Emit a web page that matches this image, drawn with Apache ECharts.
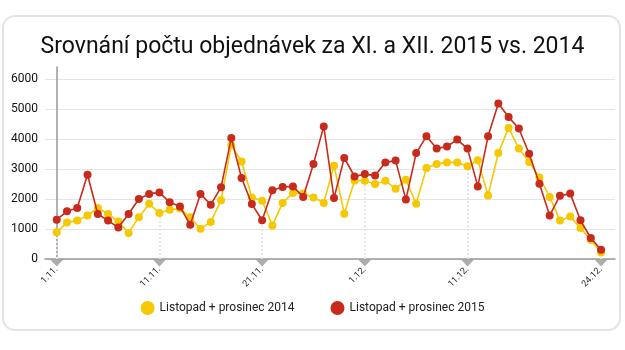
<!DOCTYPE html>
<html>
<head>
<meta charset="utf-8">
<script src="https://cdn.jsdelivr.net/npm/echarts@6/dist/echarts.min.js"></script>
<style>html,body{margin:0;padding:0;background:#fff;}#c{width:625px;height:350px;}</style>
</head>
<body>
<div id="c"></div>
<script>
// Days: 1.11. .. 30.11., 1.12. .. 24.12.
const categories = [];
for (let d = 1; d <= 30; d++) categories.push(d + '.11.');
for (let d = 1; d <= 24; d++) categories.push(d + '.12.');

const labelIndexes = [0, 10, 20, 30, 40, 53];
const yTicks = [0, 1000, 2000, 3000, 4000, 5000, 6000];

const values2014 = [
  890, 1220, 1280, 1450, 1700, 1500, 1250, 870, 1390, 1840,
  1530, 1640, 1680, 1390, 1010, 1230, 1960, 3790, 3250, 2050,
  1940, 1120, 1870, 2200, 2180, 2050, 1870, 3110, 1510, 2620,
  2610, 2500, 2610, 2340, 2640, 1840, 3030, 3170, 3220, 3220,
  3090, 3290, 2120, 3530, 4370, 3680, 3230, 2720, 2070, 1280,
  1420, 1030, 640, 220
];
const values2015 = [
  1310, 1590, 1700, 2810, 1500, 1280, 1050, 1500, 2000, 2170,
  2220, 1890, 1750, 1140, 2170, 1810, 2390, 4030, 2700, 1830,
  1290, 2290, 2400, 2420, 2070, 3170, 4420, 2030, 3370, 2750,
  2830, 2780, 3220, 3280, 1980, 3530, 4090, 3680, 3750, 3980,
  3680, 2420, 4090, 5180, 4730, 4350, 3510, 2510, 1450, 2110,
  2180, 1290, 700, 310
];

const name2014 = 'Listopad + prosinec 2014';
const name2015 = 'Listopad + prosinec 2015';

const chart = echarts.init(document.getElementById('c'));
const FONT = 'Roboto';

const guideLines = labelIndexes.map(i => [
  { coord: [i, 0] },
  { coord: [i, Math.min(values2014[i], values2015[i])] }
]);

chart.setOption({
  animation: false,
  backgroundColor: '#fff',
  textStyle: { fontFamily: FONT },
  graphic: [{
    type: 'rect', z: -10,
    shape: { x: 3, y: 16, width: 617, height: 314, r: 12 },
    style: { fill: '#fff', stroke: '#e4e4e4', lineWidth: 2 }
  }],
  title: {
    text: 'Srovnání počtu objednávek za XI. a XII. 2015 vs. 2014',
    left: 'center', top: 31,
    textStyle: { fontFamily: FONT, fontSize: 23, fontWeight: 'normal', color: '#111' }
  },
  legend: {
    bottom: 30, left: 'center',
    icon: 'circle', itemWidth: 14, itemHeight: 14, itemGap: 36,
    data: [name2014, name2015],
    textStyle: { fontFamily: FONT, fontSize: 12, color: '#222' }
  },
  grid: { left: 45, right: 10, top: 67, bottom: 91 },
  xAxis: {
    type: 'value', min: -1.14, max: 54.36,
    axisLine: { show: true, lineStyle: { color: '#999', width: 1.5 } },
    axisTick: { show: false },
    splitLine: { show: false },
    axisLabel: {
      customValues: labelIndexes,
      rotate: 45, margin: 9,
      fontFamily: FONT, fontSize: 9, color: '#222',
      formatter: v => categories[Math.round(v)] || ''
    }
  },
  yAxis: {
    type: 'value', min: 0, max: 6400, interval: 1000,
    axisLine: { show: true, lineStyle: { color: '#999', width: 1.5 } },
    axisTick: { show: false },
    splitLine: { show: true, showMaxLine: false, lineStyle: { color: '#e4e4e4', width: 1 } },
    axisLabel: {
      showMaxLabel: false, margin: 7,
      fontFamily: FONT, fontSize: 12, color: '#111',
      formatter: v => (yTicks.indexOf(v) >= 0 ? String(v) : '')
    }
  },
  series: [
    {
      name: name2014, type: 'line',
      data: values2014.map((v, i) => [i, v]),
      symbol: 'circle', symbolSize: 8, showAllSymbol: true,
      itemStyle: { color: '#f5c800' },
      lineStyle: { color: '#f5c800', width: 1.6 },
      z: 3,
      markLine: {
        silent: true, symbol: 'none', label: { show: false },
        lineStyle: { color: '#e6e6e6', type: 'dotted', width: 2 },
        data: guideLines, z: 1
      }
    },
    {
      name: name2015, type: 'line',
      data: values2015.map((v, i) => [i, v]),
      symbol: 'circle', symbolSize: 8, showAllSymbol: true,
      itemStyle: { color: '#c82a1c' },
      lineStyle: { color: '#c82a1c', width: 1.6 },
      z: 4
    },
    {
      type: 'scatter', silent: true, clip: false,
      data: labelIndexes.map(i => [i, 0]),
      symbol: 'triangle', symbolRotate: 180, symbolSize: [13, 7],
      symbolOffset: [0, 4],
      itemStyle: { color: '#999' },
      z: 2, legendHoverLink: false, tooltip: { show: false }
    }
  ]
});
</script>
</body>
</html>
